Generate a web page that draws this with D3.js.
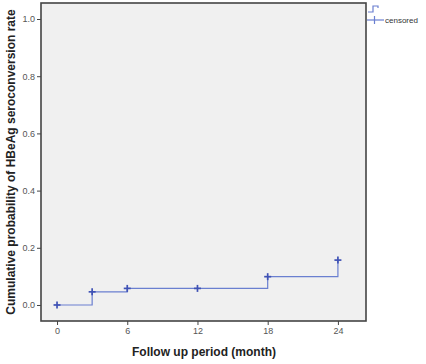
<!DOCTYPE html>
<html>
<head>
<meta charset="utf-8">
<script src="https://cdn.jsdelivr.net/npm/d3@7"></script>
<style>
  body { margin: 0; background: #fff; }
  text { font-family: Arial, "Liberation Sans", sans-serif; }
</style>
</head>
<body>
<script>
// follow up months and cumulative probability (step function)
const months = [0, 3, 6, 12, 18, 24];
const cumProb = [0, 0.046, 0.058, 0.058, 0.099, 0.157];
const xTicks = [0, 6, 12, 18, 24];
const yTicks = [0, 0.2, 0.4, 0.6, 0.8, 1.0];

const W = 426, H = 364;
const frame = {left: 41, top: 3, right: 366, bottom: 321};

const svg = d3.select('body').append('svg').attr('width', W).attr('height', H);

const x = d3.scaleLinear().domain([-1.37, 26.4]).range([frame.left, frame.right]);
const y = d3.scaleLinear().domain([-0.056, 1.056]).range([frame.bottom, frame.top]);

// plot background
svg.append('rect')
  .attr('x', frame.left).attr('y', frame.top)
  .attr('width', frame.right - frame.left).attr('height', frame.bottom - frame.top)
  .attr('fill', '#f0f0f0').attr('stroke', '#444').attr('stroke-width', 1.6);

// axes
const yAxisG = svg.append('g').attr('transform', `translate(${frame.left},0)`)
  .call(d3.axisLeft(y).tickValues(yTicks).tickFormat(d3.format('.1f')).tickSize(4).tickPadding(2));
const xAxisG = svg.append('g').attr('transform', `translate(0,${frame.bottom})`)
  .call(d3.axisBottom(x).tickValues(xTicks).tickSize(4).tickPadding(3));
[yAxisG, xAxisG].forEach(g => {
  g.select('.domain').remove();
  g.selectAll('.tick line').attr('stroke', '#444');
  g.selectAll('.tick text').attr('fill', '#555').style('font-size', '9px');
});

// step line
const stepPts = [];
months.forEach((m, i) => {
  if (i > 0) stepPts.push([m, cumProb[i - 1]]);
  stepPts.push([m, cumProb[i]]);
});
const line = d3.line().x(d => x(d[0])).y(d => y(d[1]));
svg.append('path').datum(stepPts)
  .attr('d', line).attr('fill', 'none')
  .attr('stroke', '#6a7fd0').attr('stroke-width', 1.2);

// censored markers
svg.selectAll('.cens').data(months).enter()
  .append('g').attr('class', 'cens')
  .attr('transform', (d, i) => `translate(${x(d)},${y(cumProb[i])})`)
  .each(function() {
    const g = d3.select(this);
    g.append('line').attr('x1', -3.5).attr('x2', 3.5).attr('y1', 0).attr('y2', 0);
    g.append('line').attr('x1', 0).attr('x2', 0).attr('y1', -3.5).attr('y2', 3.5);
  })
  .selectAll('line').attr('stroke', '#3f52b5').attr('stroke-width', 1.7);

// legend
const leg = svg.append('g');
leg.append('path').attr('d', 'M368,12 H373 V6 H378 V8')
  .attr('fill', 'none').attr('stroke', '#6a7fd0').attr('stroke-width', 1.2);
leg.append('line').attr('x1', 367).attr('x2', 384).attr('y1', 20).attr('y2', 20)
  .attr('stroke', '#6a7fd0').attr('stroke-width', 1.2);
leg.append('line').attr('x1', 374.5).attr('x2', 374.5).attr('y1', 16).attr('y2', 24)
  .attr('stroke', '#6a7fd0').attr('stroke-width', 1.2);
leg.append('text').attr('x', 385).attr('y', 23).text('censored')
  .attr('fill', '#333').style('font-size', '8px');

// axis titles
svg.append('text').attr('x', 204).attr('y', 356).attr('text-anchor', 'middle')
  .style('font-size', '12px').style('font-weight', 'bold').attr('fill', '#222')
  .text('Follow up period (month)');
svg.append('text').attr('transform', 'translate(15,162) rotate(-90)')
  .attr('text-anchor', 'middle')
  .style('font-size', '12px').style('font-weight', 'bold').attr('fill', '#222')
  .text('Cumulative probability of HBeAg seroconversion rate');
</script>
</body>
</html>
